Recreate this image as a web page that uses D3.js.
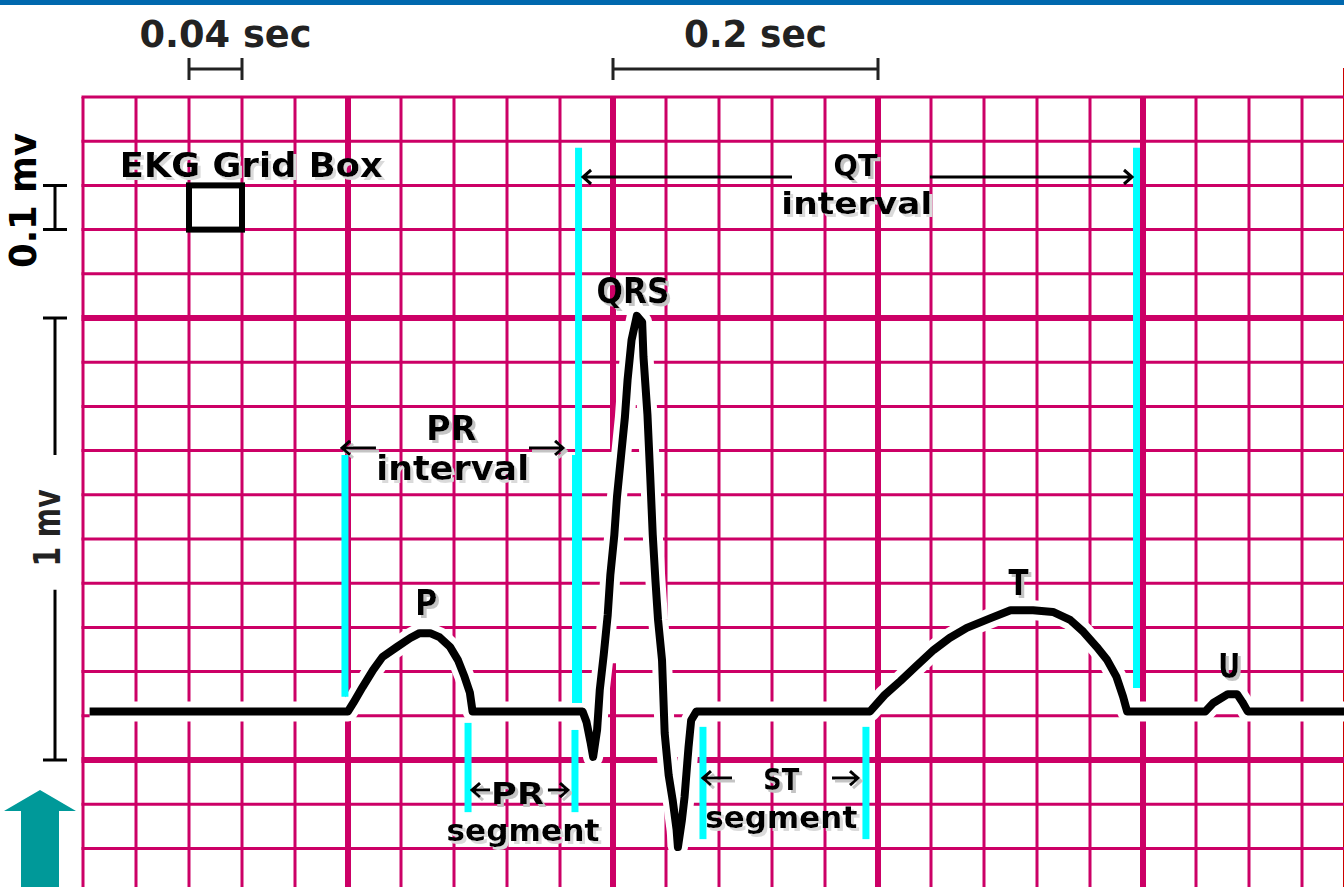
<!DOCTYPE html>
<html>
<head>
<meta charset="utf-8">
<script src="https://cdn.jsdelivr.net/npm/d3@7/dist/d3.min.js"></script>
<style>
  html, body { margin: 0; padding: 0; background: #fff; overflow: hidden; }
  svg { display: block; }
  text { font-family: 'DejaVu Sans', sans-serif; font-weight: bold; }
</style>
</head>
<body>
<svg id="ekg"></svg>
<script>
// EKG trace: time in seconds, amplitude in mV (0 = lower heavy grid line)
var traceTime = [0.005, 0.200, 0.204, 0.211, 0.219, 0.226, 0.237, 0.247, 0.254, 0.262, 0.269, 0.277, 0.283, 0.288, 0.292, 0.294,
  0.377, 0.380, 0.383, 0.385, 0.388, 0.390, 0.393, 0.396, 0.398, 0.401, 0.403, 0.406, 0.409, 0.411, 0.414, 0.418,
  0.422, 0.423, 0.426, 0.428, 0.430, 0.432, 0.434, 0.437, 0.439, 0.442, 0.445, 0.448, 0.449, 0.452, 0.454, 0.457, 0.459, 0.463,
  0.594, 0.605, 0.617, 0.628, 0.642, 0.654, 0.667, 0.685, 0.700, 0.717, 0.732, 0.745, 0.755, 0.765, 0.773, 0.780, 0.785, 0.788,
  0.847, 0.853, 0.864, 0.871, 0.875, 0.879, 0.952];
var traceMv = [0.11, 0.11, 0.129, 0.165, 0.204, 0.233, 0.256, 0.276, 0.287, 0.287, 0.278, 0.256, 0.226, 0.188, 0.152, 0.11,
  0.11, 0.086, 0.041, 0.007, 0.068, 0.158, 0.238, 0.328, 0.419, 0.509, 0.595, 0.686, 0.776, 0.860, 0.950, 1.005,
  0.991, 0.912, 0.781, 0.649, 0.509, 0.407, 0.317, 0.226, 0.061, -0.034, -0.090, -0.158, -0.197, -0.136, -0.084, 0.029, 0.090, 0.11,
  0.11, 0.147, 0.179, 0.210, 0.249, 0.276, 0.299, 0.321, 0.339, 0.339, 0.335, 0.317, 0.290, 0.256, 0.226, 0.188, 0.143, 0.11,
  0.11, 0.129, 0.149, 0.149, 0.131, 0.11, 0.11];

// cyan interval markers
var markerTime   = [0.1977, 0.3717, 0.3740, 0.7951, 0.2906, 0.3713, 0.4679, 0.5909];
var markerTop    = [0.690, 0.690, 1.385, 1.385, 0.084, 0.068, 0.075, 0.075];
var markerBottom = [0.143, 0.129, 0.129, 0.163, -0.118, -0.118, -0.179, -0.179];

// arrows (from -> to, head at "to")
var arrowFrom = [0.2211, 0.3366, 0.5351, 0.6392, 0.4898, 0.5653, 0.3072, 0.3509];
var arrowTo   = [0.1955, 0.3623, 0.3774, 0.7917, 0.4679, 0.5849, 0.2936, 0.3660];
var arrowMv   = [0.706, 0.706, 1.319, 1.319, -0.041, -0.041, -0.068, -0.068];

// labels
var labelText = ["P", "QRS", "T", "U", "PR", "interval", "QT", "interval", "PR", "segment", "ST", "segment", "EKG Grid Box"];
var labelTime = [0.259, 0.415, 0.706, 0.865, 0.278, 0.279, 0.583, 0.584, 0.328, 0.332, 0.527, 0.527, 0.127];
var labelMv   = [0.328, 1.034, 0.373, 0.186, 0.724, 0.633, 1.321, 1.235, -0.0995, -0.183, -0.068, -0.154, 1.319];

// scale bars
var secBars = [[0.08, 0.12], [0.4, 0.6]];
var secText = ["0.04 sec", "0.2 sec"];
var mvBars = [[1.2, 1.3], [0, 1]];
var mvText = ["0.1 mv", "1 mv"];

var W = 1344, H = 887;
var svg = d3.select("#ekg").attr("width", W).attr("height", H);

// 0.04 s = one small box, 1 mV = ten small boxes
var x = d3.scaleLinear().domain([0, 1]).range([83, 1408]);
var y = d3.scaleLinear().domain([0, 1]).range([760, 318]);

// drop shadow used by the labels
var defs = svg.append("defs");
[["shadow", "#c4c4c4"], ["shadowLight", "#dadada"]].forEach(function(s) {
  var f = defs.append("filter").attr("id", s[0])
    .attr("x", "-10%").attr("y", "-20%").attr("width", "130%").attr("height", "150%");
  f.append("feOffset").attr("in", "SourceAlpha").attr("dx", 3).attr("dy", 3).attr("result", "off");
  f.append("feFlood").attr("flood-color", s[1]);
  f.append("feComposite").attr("in2", "off").attr("operator", "in").attr("result", "sh");
  var m = f.append("feMerge");
  m.append("feMergeNode").attr("in", "sh");
  m.append("feMergeNode").attr("in", "SourceGraphic");
});

var gridColor = "#cc0066";
var cols = d3.range(0, 25);
var rows = d3.range(0, 19);

// top bar
svg.append("rect").attr("x", 0).attr("y", 0).attr("width", W).attr("height", 5).attr("fill", "#0068ae");
svg.append("line").attr("x1", W - 0.5).attr("x2", W - 0.5).attr("y1", 68).attr("y2", H)
  .attr("stroke", "#cc0000").attr("stroke-width", 1);

var grid = svg.append("g").attr("class", "grid");
cols.forEach(function(k) {
  var thick = k % 5 == 0 && k > 0;
  var segs = [[1.5, -0.3]];
  if (k == 10) segs = [[1.5, 0.70], [0.219, -0.3]];
  segs.forEach(function(s) {
    grid.append("line")
      .attr("x1", x(k * 0.04)).attr("x2", x(k * 0.04))
      .attr("y1", y(s[0])).attr("y2", y(s[1]))
      .attr("stroke", gridColor)
      .attr("stroke-width", thick ? 6 : 3);
  });
});
rows.forEach(function(r) {
  var v = (15 - r) / 10;
  var thick = r == 5 || r == 15;
  grid.append("line")
    .attr("x1", x(0) - 1.5).attr("x2", W)
    .attr("y1", y(v)).attr("y2", y(v))
    .attr("stroke", gridColor)
    .attr("stroke-width", thick ? 6 : 3);
});

// EKG grid box
svg.append("rect")
  .attr("x", x(0.08)).attr("y", y(1.3))
  .attr("width", x(0.12) - x(0.08)).attr("height", y(1.2) - y(1.3))
  .attr("fill", "none").attr("stroke", "#000").attr("stroke-width", 6);

var line = d3.line()
  .x(function(d) { return x(d[0]); })
  .y(function(d) { return y(d[1]); });
var trace = d3.zip(traceTime, traceMv);

// white halo around the trace
svg.append("path").datum(trace)
  .attr("d", line)
  .attr("fill", "none").attr("stroke", "#fff")
  .attr("stroke-width", 20).attr("stroke-linejoin", "round");

// cyan markers
svg.selectAll("line.marker")
  .data(markerTime)
  .enter()
  .append("line")
  .attr("class", "marker")
  .attr("x1", function(d) { return x(d); })
  .attr("x2", function(d) { return x(d); })
  .attr("y1", function(d, i) { return y(markerTop[i]); })
  .attr("y2", function(d, i) { return y(markerBottom[i]); })
  .attr("stroke", "#00ffff")
  .attr("stroke-width", 7);

svg.append("path").datum(trace)
  .attr("d", line)
  .attr("fill", "none").attr("stroke", "#000")
  .attr("stroke-width", 8).attr("stroke-linejoin", "round");

// arrows
function arrowPath(t0, t1, v) {
  var x0 = x(t0), x1 = x(t1), yy = y(v);
  var back = x1 > x0 ? -1 : 1;
  return "M" + x0 + "," + yy + "H" + x1 +
    "M" + (x1 + back * 8) + "," + (yy - 7) + "L" + x1 + "," + yy + "L" + (x1 + back * 8) + "," + (yy + 7);
}
var arrowShadow = [true, true, false, false, true, true, true, true];
arrowFrom.forEach(function(t0, i) {
  svg.append("path")
    .attr("d", arrowPath(t0, arrowTo[i], arrowMv[i]))
    .attr("fill", "none").attr("stroke", "#000").attr("stroke-width", 3)
    .attr("filter", arrowShadow[i] ? "url(#shadow)" : null);
});

// labels
var labelWidth = [22, 73, 20, 22, 50, 153, 44, 151, 53, 153, 36, 152, 263];
var labelSize  = [36, 36, 36, 34, 34, 34, 31, 31, 30, 30, 30, 30, 34];
var lightShadow = ["interval", "segment", "EKG Grid Box"];
svg.append("g").selectAll("text")
  .data(labelText)
  .enter()
  .append("text")
  .attr("x", function(d, i) { return x(labelTime[i]); })
  .attr("y", function(d, i) { return y(labelMv[i]); })
  .attr("text-anchor", "middle")
  .attr("font-size", function(d, i) { return labelSize[i]; })
  .attr("textLength", function(d, i) { return labelWidth[i]; })
  .attr("lengthAdjust", "spacingAndGlyphs")
  .attr("fill", "#000")
  .attr("filter", function(d) { return lightShadow.indexOf(d) >= 0 ? "url(#shadowLight)" : "url(#shadow)"; })
  .text(function(d) { return d; });

// time scale bars
var ink = "#222";
secBars.forEach(function(b, i) {
  var g = svg.append("g");
  g.append("path")
    .attr("d", "M" + x(b[0]) + ",58V80M" + x(b[0]) + ",69H" + x(b[1]) + "M" + x(b[1]) + ",58V80")
    .attr("fill", "none").attr("stroke", ink).attr("stroke-width", 3);
  g.append("text")
    .attr("x", (x(b[0]) + x(b[1])) / 2 + 10).attr("y", 47)
    .attr("text-anchor", "middle")
    .attr("font-size", 38)
    .attr("textLength", i == 0 ? 172 : 143)
    .attr("lengthAdjust", "spacingAndGlyphs")
    .attr("fill", ink)
    .text(secText[i]);
});

// voltage scale bars
var bx = 55;
mvBars.forEach(function(b, i) {
  var g = svg.append("g");
  var yTop = y(b[1]), yBot = y(b[0]);
  if (i == 0) {
    g.append("path")
      .attr("d", "M43," + yTop + "H67M" + bx + "," + yTop + "V" + yBot + "M43," + yBot + "H67")
      .attr("fill", "none").attr("stroke", "#000").attr("stroke-width", 3);
    g.append("text")
      .attr("transform", "translate(36," + ((133 + 268) / 2) + ") rotate(-90)")
      .attr("text-anchor", "middle").attr("font-size", 38)
      .attr("textLength", 135).attr("lengthAdjust", "spacingAndGlyphs")
      .attr("fill", "#000").text(mvText[i]);
  } else {
    g.append("path")
      .attr("d", "M43," + yTop + "H67M" + bx + "," + yTop + "V" + y(0.69) +
        "M" + bx + "," + y(0.385) + "V" + yBot + "M43," + yBot + "H67")
      .attr("fill", "none").attr("stroke", "#000").attr("stroke-width", 3);
    g.append("text")
      .attr("transform", "translate(60,528) rotate(-90)")
      .attr("text-anchor", "middle").attr("font-size", 38)
      .attr("textLength", 77).attr("lengthAdjust", "spacingAndGlyphs")
      .attr("fill", ink).text(mvText[i]);
  }
});

// teal arrow
svg.append("path")
  .attr("d", "M4,811L40,790L76,811H59V" + H + "H21V811Z")
  .attr("fill", "#009999");
</script>
</body>
</html>
